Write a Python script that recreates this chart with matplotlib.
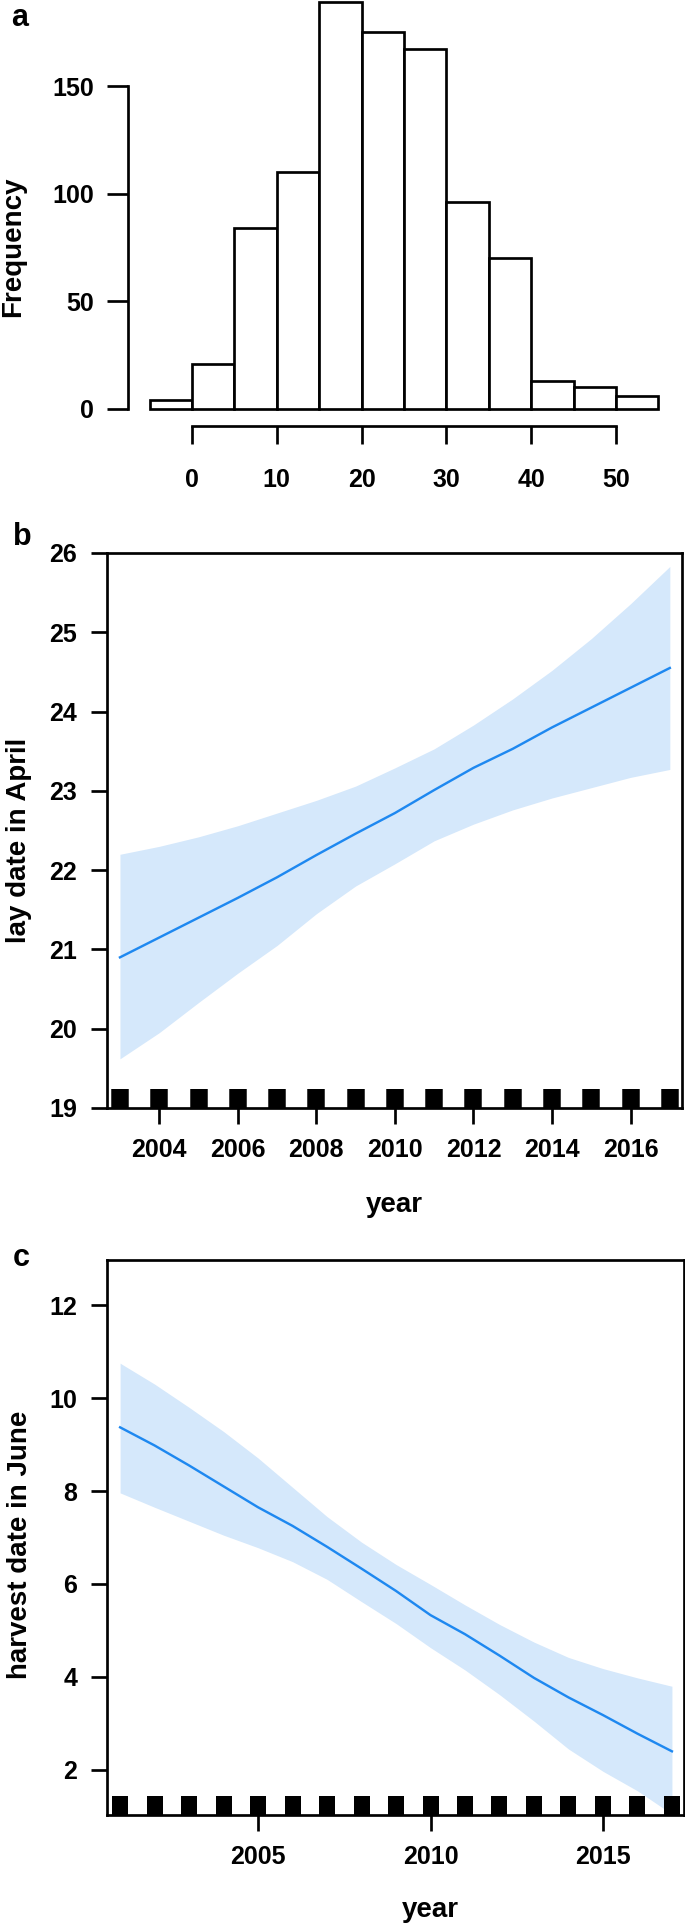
import matplotlib
matplotlib.use("Agg")
import matplotlib.pyplot as plt
import numpy as np

# ---------------- data ----------------
hist_edges = [-5, 0, 5, 10, 15, 20, 25, 30, 35, 40, 45, 50, 55]
hist_counts = [4, 21, 84, 110, 189, 175, 167, 96, 70, 13, 10, 6]
hist_xticks = [0, 10, 20, 30, 40, 50]
hist_yticks = [0, 50, 100, 150]

lay_years = [2003, 2004, 2005, 2006, 2007, 2008, 2009, 2010, 2011, 2012, 2013, 2014, 2015, 2016, 2017]
lay_fit = [20.90, 21.15, 21.40, 21.65, 21.91, 22.19, 22.46, 22.72, 23.01, 23.29, 23.53, 23.80, 24.05, 24.30, 24.55]
lay_upper = [22.20, 22.30, 22.42, 22.56, 22.72, 22.88, 23.06, 23.29, 23.53, 23.83, 24.16, 24.52, 24.92, 25.36, 25.83]
lay_lower = [19.62, 19.95, 20.33, 20.70, 21.05, 21.45, 21.80, 22.08, 22.37, 22.58, 22.76, 22.91, 23.04, 23.17, 23.27]
lay_yticks = [19, 20, 21, 22, 23, 24, 25, 26]
lay_xticks = [2004, 2006, 2008, 2010, 2012, 2014, 2016]

harv_years = [2001, 2002, 2003, 2004, 2005, 2006, 2007, 2008, 2009, 2010, 2011, 2012, 2013, 2014, 2015, 2016, 2017]
harv_fit = [9.37, 8.98, 8.55, 8.10, 7.65, 7.25, 6.80, 6.33, 5.85, 5.33, 4.92, 4.46, 3.98, 3.56, 3.18, 2.78, 2.40]
harv_upper = [10.75, 10.30, 9.80, 9.28, 8.71, 8.08, 7.45, 6.90, 6.42, 5.99, 5.55, 5.13, 4.75, 4.42, 4.18, 3.98, 3.80]
harv_lower = [7.96, 7.65, 7.35, 7.05, 6.78, 6.48, 6.10, 5.62, 5.15, 4.63, 4.15, 3.62, 3.05, 2.45, 1.97, 1.55, 1.05]
harv_yticks = [2, 4, 6, 8, 10, 12]
harv_xticks = [2005, 2010, 2015]

# ---------------- style ----------------
W, H = 685, 1925
DPI = 100
PT = 72.0 / DPI  # points per pixel

plt.rcParams['font.family'] = ['Liberation Sans', 'DejaVu Sans']
plt.rcParams['font.weight'] = 'bold'

LINE_C = '#1E88F0'
FILL_C = '#D5E8FB'
LW = 2.7 * PT
TICKSIZE = 18
LABELSIZE = 20

fig = plt.figure(figsize=(W / DPI, H / DPI), dpi=DPI)


def rect(left, top, right, bottom):
    return [left / W, 1 - bottom / H, (right - left) / W, (bottom - top) / H]


# ---------------- panel a ----------------
axa = fig.add_axes(rect(128, 0, 680, 426))
px_per_x = (616 - 192) / 50.0
px_per_y = (409 - 86) / 150.0
axa.set_xlim(-(192 - 128) / px_per_x, (680 - 192) / px_per_x)
axa.set_ylim(-(426 - 409) / px_per_y, 409 / px_per_y)
axa.bar(hist_edges[:-1], hist_counts, width=np.diff(hist_edges), align='edge',
        facecolor='white', edgecolor='black', linewidth=LW, clip_on=False)
for s in ['top', 'right']:
    axa.spines[s].set_visible(False)
axa.spines['left'].set_bounds(0, 150)
axa.spines['bottom'].set_bounds(0, 50)
for s in ['left', 'bottom']:
    axa.spines[s].set_linewidth(LW)
    axa.spines[s].set_capstyle('projecting')
axa.set_yticks(hist_yticks)
axa.set_xticks(hist_xticks)
axa.tick_params(axis='y', length=21 * PT, width=LW, pad=13 * PT, labelsize=TICKSIZE)
axa.tick_params(axis='x', length=18 * PT, width=LW, pad=24 * PT, labelsize=TICKSIZE)
for lab in axa.get_xticklabels() + axa.get_yticklabels():
    lab.set_fontweight('bold')
fig.text(13 / W, 1 - 247 / H, 'Frequency', rotation=90, ha='center', va='center',
         fontsize=LABELSIZE, fontweight='bold')
fig.text(20 / W, 1 - 18 / H, 'a', ha='center', va='center', fontsize=22, fontweight='bold')


# ---------------- panels b and c ----------------
def line_panel(box, xlim, ylim, years, fit, lo, up, xticks, yticks, rug_lw):
    ax = fig.add_axes(rect(*box))
    ax.fill_between(years, lo, up, color=FILL_C, linewidth=0)
    ax.plot(years, fit, color=LINE_C, linewidth=2.4 * PT)
    ax.vlines(years, 0, 0.034, transform=ax.get_xaxis_transform(), colors='black',
              linewidth=rug_lw, capstyle='butt')
    ax.set_xlim(*xlim)
    ax.set_ylim(*ylim)
    ax.set_xticks(xticks)
    ax.set_yticks(yticks)
    for s in ax.spines.values():
        s.set_linewidth(LW)
        s.set_zorder(5)
    ax.tick_params(axis='y', length=16 * PT, width=LW, pad=14 * PT, labelsize=TICKSIZE)
    ax.tick_params(axis='x', length=16 * PT, width=LW, pad=14 * PT, labelsize=TICKSIZE)
    for lab in ax.get_xticklabels() + ax.get_yticklabels():
        lab.set_fontweight('bold')
    return ax


axb = line_panel((107, 553, 682, 1108), (2002.67, 2017.31), (19, 26),
                 lay_years, lay_fit, lay_lower, lay_upper, lay_xticks, lay_yticks, 17.5 * PT)
fig.text(22 / W, 1 - 537 / H, 'b', ha='center', va='center', fontsize=22, fontweight='bold')
fig.text(19 / W, 1 - 840 / H, 'lay date in April', rotation=90, ha='center', va='center',
         fontsize=LABELSIZE, fontweight='bold')
fig.text(394 / W, 1 - 1205 / H, 'year', ha='center', va='center', fontsize=LABELSIZE, fontweight='bold')

axc = line_panel((107, 1260, 684, 1815), (2000.62, 2017.35), (1.03, 12.97),
                 harv_years, harv_fit, harv_lower, harv_upper, harv_xticks, harv_yticks, 16 * PT)
fig.text(21 / W, 1 - 1258 / H, 'c', ha='center', va='center', fontsize=22, fontweight='bold')
fig.text(20 / W, 1 - 1545 / H, 'harvest date in June', rotation=90, ha='center', va='center',
         fontsize=LABELSIZE, fontweight='bold')
fig.text(430 / W, 1 - 1910 / H, 'year', ha='center', va='center', fontsize=LABELSIZE, fontweight='bold')

fig.savefig('out.png', dpi=DPI)
